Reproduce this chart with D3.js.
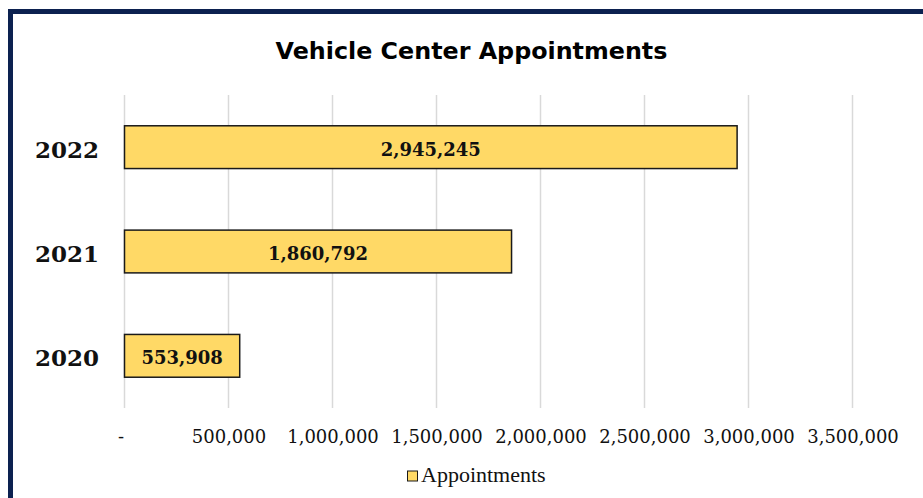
<!DOCTYPE html>
<html>
  <head>
    <meta charset="utf-8">
    <title>Vehicle Center Appointments</title>
    <script src="https://d3js.org/d3.v7.min.js"></script>
    <style>
      body { margin: 0; background: #fff; }
    </style>
  </head>
  <body>
    <script>
      // data
      var years = ["2022", "2021", "2020"];
      var appointments = [2945245, 1860792, 553908];
      var tickValues = [0, 500000, 1000000, 1500000, 2000000, 2500000, 3000000, 3500000];
      var seriesName = "Appointments";

      var data = years.map(function(y, i) { return { year: y, value: appointments[i] }; });

      var width = 923, height = 498;
      var plotTop = 95, plotBottom = 408, plotLeft = 124.5;

      var svg = d3.select("body").append("svg")
        .attr("width", width)
        .attr("height", height);

      // frame
      svg.append("rect")
        .attr("x", 10.5)
        .attr("y", 11.5)
        .attr("width", 940)
        .attr("height", 520)
        .attr("fill", "#fff")
        .attr("stroke", "#0c2150")
        .attr("stroke-width", 5);

      var xScale = d3.scaleLinear().domain([0, 3500000]).range([plotLeft, 852.5]);
      var yScale = d3.scaleBand().domain(years).range([plotTop, plotBottom])
        .paddingInner(0.59).paddingOuter(0.295);

      // title
      svg.append("text")
        .attr("x", 471.5)
        .attr("y", 58.5)
        .attr("text-anchor", "middle")
        .style("font-family", "'DejaVu Sans', sans-serif")
        .style("font-weight", "bold")
        .style("font-size", "23.8px")
        .text("Vehicle Center Appointments");

      // gridlines
      svg.append("g")
        .selectAll("line")
        .data(tickValues)
        .enter().append("line")
          .attr("x1", function(d) { return xScale(d); })
          .attr("x2", function(d) { return xScale(d); })
          .attr("y1", plotTop)
          .attr("y2", plotBottom)
          .attr("stroke", "#d9d9d9")
          .attr("stroke-width", 1.5);

      // bars
      svg.append("g")
        .selectAll("rect")
        .data(data)
        .enter().append("rect")
          .attr("x", xScale(0))
          .attr("y", function(d) { return yScale(d.year); })
          .attr("width", function(d) { return xScale(d.value) - xScale(0); })
          .attr("height", yScale.bandwidth())
          .attr("fill", "#ffd966")
          .attr("stroke", "#1a1a1a")
          .attr("stroke-width", 1.5);

      // bar labels
      svg.append("g")
        .selectAll("text")
        .data(data)
        .enter().append("text")
          .attr("x", function(d) { return (xScale(0) + xScale(d.value)) / 2; })
          .attr("y", function(d) { return yScale(d.year) + yScale.bandwidth() / 2 + 2; })
          .attr("dy", "0.36em")
          .attr("text-anchor", "middle")
          .style("font-family", "'DejaVu Serif', serif")
          .style("font-weight", "bold")
          .style("font-size", "18px")
          .attr("fill", "#111")
          .text(function(d) { return d3.format(",")(d.value); });

      // x axis
      var xAxis = svg.append("g")
        .attr("transform", "translate(0," + plotBottom + ")")
        .call(d3.axisBottom(xScale)
          .tickValues(tickValues)
          .tickSize(0)
          .tickPadding(22)
          .tickFormat(function(d) { return d === 0 ? "-" : d3.format(",")(d); }));
      xAxis.select(".domain").remove();
      xAxis.selectAll("text")
        .attr("dx", function(d) { return d === 0 ? -4 : 0; })
        .style("font-family", "'DejaVu Serif', serif")
        .style("font-size", "18px")
        .attr("fill", "#111");

      // y axis
      var yAxis = svg.append("g")
        .attr("transform", "translate(" + plotLeft + ",3)")
        .call(d3.axisLeft(yScale).tickSize(0).tickPadding(25.5));
      yAxis.select(".domain").remove();
      yAxis.selectAll("text")
        .style("font-family", "'DejaVu Serif', serif")
        .style("font-weight", "bold")
        .style("font-size", "23px")
        .attr("fill", "#111");

      // legend
      var legend = svg.append("g");
      legend.append("rect")
        .attr("x", 407.5)
        .attr("y", 471)
        .attr("width", 10)
        .attr("height", 10)
        .attr("fill", "#ffd966")
        .attr("stroke", "#1a1a1a")
        .attr("stroke-width", 1);
      legend.append("text")
        .attr("x", 421)
        .attr("y", 482)
        .style("font-family", "'Liberation Serif', serif")
        .style("font-size", "22px")
        .attr("fill", "#111")
        .text(seriesName);
    </script>
  </body>
</html>
